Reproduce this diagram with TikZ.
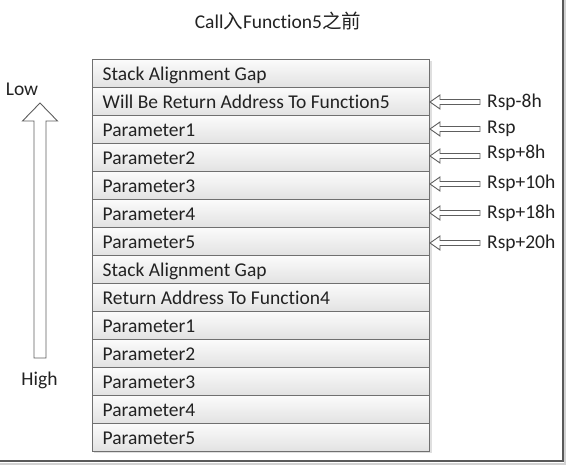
\documentclass[tikz,border=0pt]{standalone}
\usepackage{fontspec}
\setmainfont{Carlito}[Ligatures=NoCommon]
\newfontfamily\cjk{Noto Sans CJK SC}
\definecolor{rowborder}{HTML}{707070}
\definecolor{rowtop}{HTML}{FBFBFB}
\definecolor{rowbot}{HTML}{E2E2E2}
\definecolor{arrowborder}{HTML}{5E5E5E}
\definecolor{txt}{HTML}{222222}
\newcommand{\fs}{\fontsize{19.5}{23}\selectfont}
\begin{document}
\begin{tikzpicture}[x=1pt,y=-1pt,
  stackrow/.style={draw=rowborder, line width=1.1pt, top color=rowtop, bottom color=rowbot,
    minimum width=337pt, minimum height=28pt, inner sep=0pt, anchor=north west},
  rowtext/.style={anchor=base west, inner sep=0pt, font=\fs, text=txt},
  lab/.style={anchor=west, inner sep=0pt, font=\fs, text=txt},
  hollow/.style={draw=arrowborder, fill=white, line width=0.9pt, line join=miter},
  ptr/.pic={\path[hollow] (0,0) -- (10,-7) -- (10,-2.5) -- (50,-2.5) -- (50,2.5) -- (10,2.5) -- (10,7) -- cycle;}]
\useasboundingbox (0,0) rectangle (566,465);
% screenshot frame
\draw[line width=1.5pt, gray!35] (565,0) -- (565,464) -- (0,464);
\draw[line width=2pt, black!65] (562.5,0) -- (562.5,461.5) -- (0,461.5);
% title
\node[font=\fs, text=txt] (title) at (278,21) {Call{\cjk 入}Function5{\cjk 之前}};
% shadow of stack
\fill[gray!25] (94,61) rectangle (431.5,453.5);
% stack rows
\foreach \i/\t in {1/Stack Alignment Gap, 2/Will Be Return Address To Function5,
  3/Parameter1, 4/Parameter2, 5/Parameter3, 6/Parameter4, 7/Parameter5,
  8/Stack Alignment Gap, 9/Return Address To Function4,
  10/Parameter1, 11/Parameter2, 12/Parameter3, 13/Parameter4, 14/Parameter5}{
  \node[stackrow] (r\i) at (92,{59+28*(\i-1)}) {};
  \node[rowtext] (t\i) at (102.5,{80.6+28*(\i-1)}) {\t};
}
% pointer labels
\node[lab] (l1) at (487,102) {Rsp-8h};
\node[lab] (l2) at (487,129) {Rsp};
\node[lab] (l3) at (487,153) {Rsp+8h};
\node[lab] (l4) at (487,183) {Rsp+10h};
\node[lab] (l5) at (487,213) {Rsp+18h};
\node[lab] (l6) at (487,243) {Rsp+20h};
% pointer arrows
\pic at (430,102) {ptr};
\pic at (430,129) {ptr};
\pic at (430,156) {ptr};
\pic at (430,184) {ptr};
\pic at (430,213) {ptr};
\pic at (430,243) {ptr};
% direction arrow
\node[lab, anchor=center] (low) at (22,89) {Low};
\node[lab, anchor=center] (high) at (39.5,380) {High};
\path[hollow] (40,103) -- (57.5,121) -- (46,121) -- (46,358) -- (34,358) -- (34,121) -- (22.5,121) -- cycle;
\end{tikzpicture}
\end{document}
